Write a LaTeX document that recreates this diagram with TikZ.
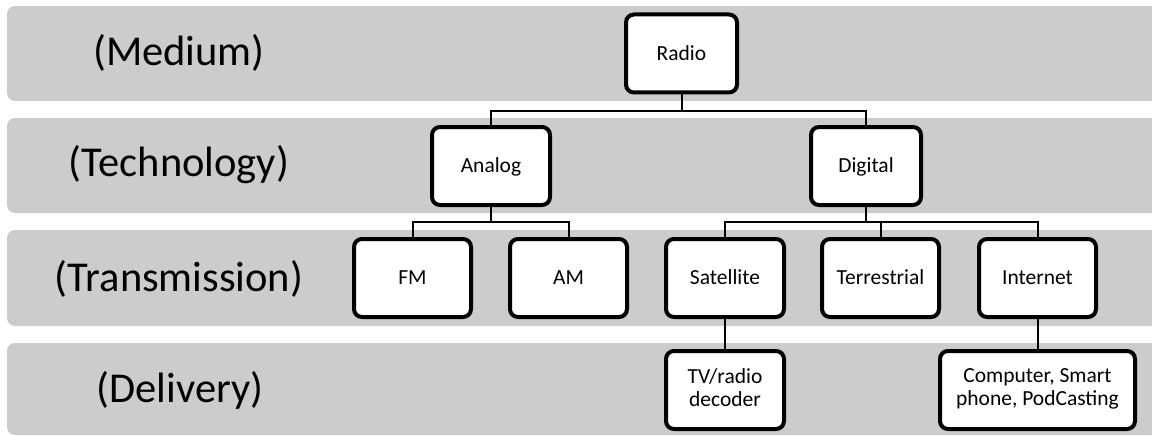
\documentclass[tikz,border=0pt]{standalone}
\usepackage{fontspec}
\setmainfont{Carlito}
\definecolor{bandgray}{RGB}{204,204,204}
\begin{document}
\begin{tikzpicture}[x=1pt,y=-1pt,
  band/.style={fill=bandgray,draw=none,rounded corners=8pt},
  lvl/.style={font=\fontsize{42.5}{50}\selectfont,anchor=center},
  box/.style={draw=black,line width=4pt,fill=white,rounded corners=8pt,
    font=\fontsize{21.5}{25}\selectfont,align=center,inner sep=2pt,
    minimum height=78pt,
    execute at begin node={\rule{0pt}{18.8pt}},
    execute at end node={\rule[-5pt]{0pt}{0pt}}},
  link/.style={draw=black,line width=2pt}]
\useasboundingbox (0,0) rectangle (1152,436);
\begin{scope}
\clip (0,0) rectangle (1152,436);
% horizontal level bands
\path[band] (7,6) rectangle (1170,101);
\path[band] (7,118) rectangle (1170,213);
\path[band] (7,230) rectangle (1170,326);
\path[band] (7,343) rectangle (1170,435);
\end{scope}
% level names
\node[lvl] (lmed) at (179,53) {(Medium)};
\node[lvl] (ltech) at (179,165) {(Technology)};
\node[lvl] (ltrans) at (179,279) {(Transmission)};
\node[lvl] (ldel) at (180,390) {(Delivery)};
% tree nodes
\node[box,minimum width=111pt] (radio) at (681.5,53.5) {Radio};
\node[box,minimum width=118pt] (analog) at (491,166) {Analog};
\node[box,minimum width=110pt] (digital) at (866,166) {Digital};
\node[box,minimum width=117pt] (fm) at (412.5,278) {FM};
\node[box,minimum width=117pt] (am) at (568.5,278) {AM};
\node[box,minimum width=118pt] (sat) at (725,278) {Satellite};
\node[box,minimum width=117pt] (terr) at (880.5,278) {Terrestrial};
\node[box,minimum width=117pt] (inet) at (1037.5,278) {Internet};
\node[box,minimum width=118pt] (tv) at (725,390) {TV/radio\\[-2pt]decoder};
\node[box,minimum width=195pt] (comp) at (1037.5,390) {Computer, Smart\\[-2pt]phone, PodCasting};
% connectors
\draw[link] (radio.south) -- ++(0,16) -| (analog.north);
\draw[link] (radio.south) -- ++(0,16) -| (digital.north);
\draw[link] (analog.south) -- ++(0,15) -| (fm.north);
\draw[link] (analog.south) -- ++(0,15) -| (am.north);
\draw[link] (digital.south) -- ++(0,15) -| (sat.north);
\draw[link] (digital.south) -- ++(0,15) -| (terr.north);
\draw[link] (digital.south) -- ++(0,15) -| (inet.north);
\draw[link] (sat.south) -- (tv.north);
\draw[link] (inet.south) -- (comp.north);
\end{tikzpicture}
\end{document}
